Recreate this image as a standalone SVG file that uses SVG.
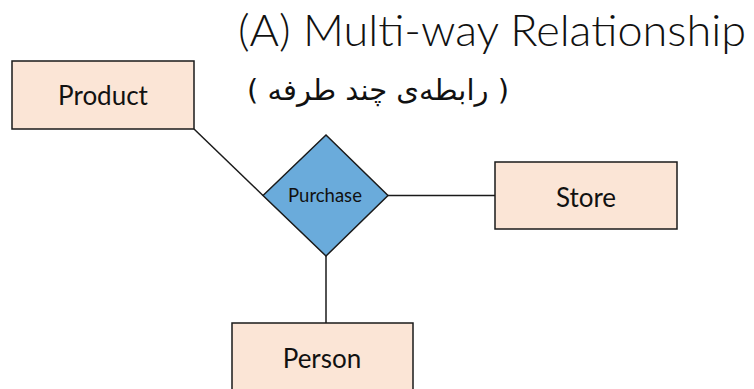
<svg xmlns="http://www.w3.org/2000/svg" width="754" height="389" viewBox="0 0 754 389">
  <style>
    .entity { fill: #FBE5D6; stroke: #1a1a1a; stroke-width: 1.5; }
    .relation { fill: #6AABDB; stroke: #1a1a1a; stroke-width: 1.5; }
    .label { font-family: Lato, "Open Sans", "Liberation Sans", sans-serif; fill: #111; text-anchor: middle; }
    .link { stroke: #1a1a1a; stroke-width: 1.5; fill: none; }
  </style>
  <rect width="754" height="389" fill="#ffffff"/>

  <!-- heading -->
  <text x="238" y="46" font-family="Lato, 'Open Sans', 'Liberation Sans', sans-serif" font-weight="300" font-size="44" fill="#111" textLength="508" lengthAdjust="spacingAndGlyphs">(A) Multi-way Relationship</text>
  <text x="378" y="100" font-family="'DejaVu Sans', 'Noto Sans', sans-serif" font-size="29" fill="#111" text-anchor="middle" direction="rtl" unicode-bidi="embed">( رابطه‌ی چند طرفه )</text>

  <!-- connectors -->
  <g id="connectors">
    <line class="link" x1="194" y1="129" x2="263" y2="195.5"/>
    <line class="link" x1="388" y1="195.5" x2="495" y2="195.5"/>
    <line class="link" x1="326" y1="256" x2="326" y2="323"/>
  </g>

  <g id="product">
    <rect class="entity" x="12" y="61" width="182" height="68"/>
    <text class="label" x="103" y="105" font-size="26">Product</text>
  </g>

  <g id="purchase">
    <polygon class="relation" points="263,195.5 326,135 388,195.5 326,256"/>
    <text class="label" x="325" y="202" font-size="18.5">Purchase</text>
  </g>

  <g id="store">
    <rect class="entity" x="495" y="162" width="182" height="67"/>
    <text class="label" x="586" y="207" font-size="26">Store</text>
  </g>

  <g id="person">
    <rect class="entity" x="232" y="323" width="181" height="70"/>
    <text class="label" x="322" y="368" font-size="26">Person</text>
  </g>
</svg>
